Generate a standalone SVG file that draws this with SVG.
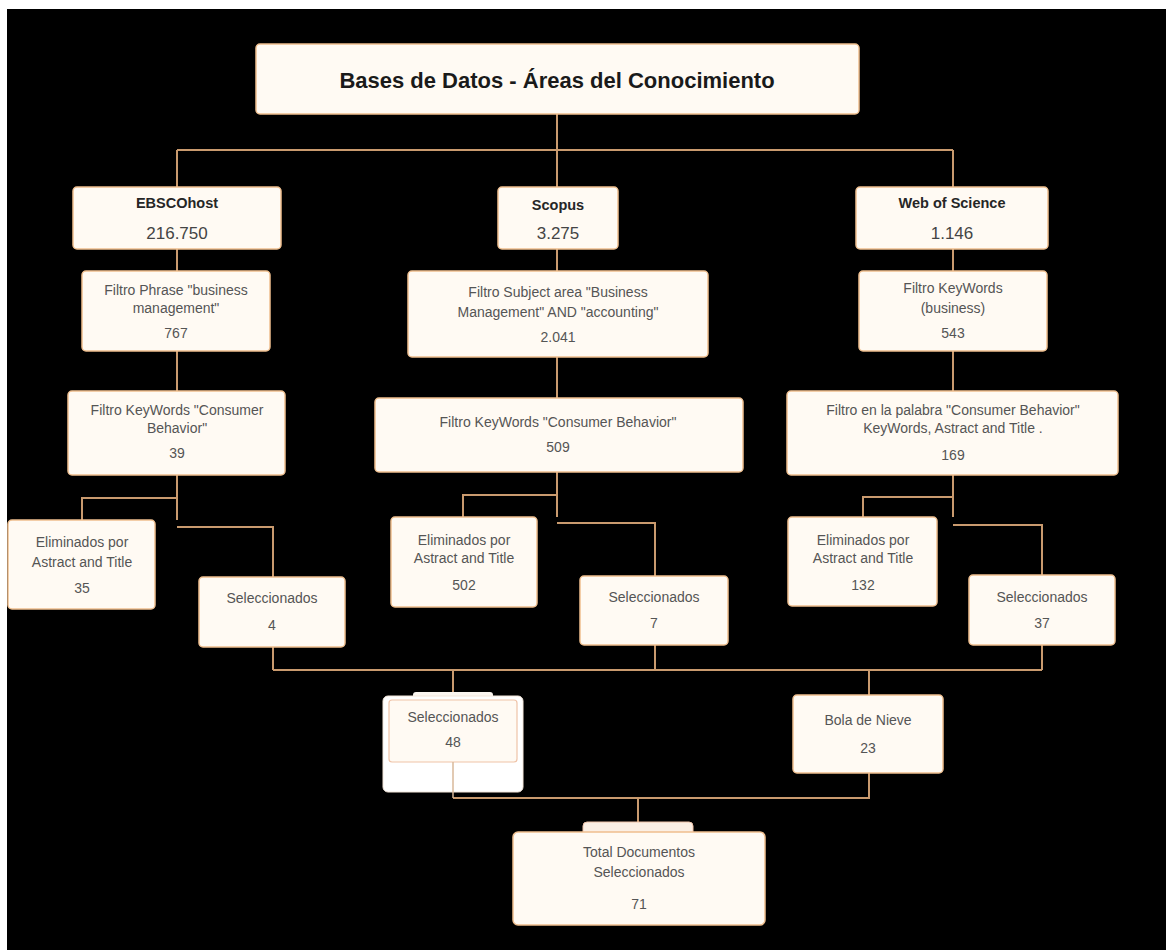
<svg xmlns="http://www.w3.org/2000/svg" width="1166" height="950" viewBox="0 0 1166 950">
<style>
.box{fill:#fffaf3;stroke:#efbf8f;stroke-width:1.5}
.ln{fill:none;stroke:#c99a6e;stroke-width:2}
.ln2{fill:none;stroke:#d9b89a;stroke-width:1.5}
text{font-family:"Liberation Sans",Arial,sans-serif;text-anchor:middle;fill:#555}
.t{font-size:14px}
.h{font-size:14.5px;font-weight:bold;fill:#262626}
.n{font-size:17px;fill:#444}
.title{font-size:22px;font-weight:bold;fill:#1a1a1a}
</style>
<rect x="0" y="0" width="1166" height="950" fill="#ffffff"/>
<rect x="7" y="9" width="1159" height="941" fill="#000000"/>
<g id="connectors">
<path class="ln" d="M557 114V150M177 150H953M177 150V520M557 150V517M953 150V517"/>
<path class="ln" d="M177 498H82V520M177 527H273V577"/>
<path class="ln" d="M557 495H463V517M557 523H655V576"/>
<path class="ln" d="M953 497H863V517M953 525H1042V575"/>
<path class="ln" d="M273 647V670M655 645V670M1042 645V670M273 670H1042M453 670V696M869 670V695"/>
<path class="ln" d="M869 773V798H453M638 798V822"/>
</g>
<g id="title"><rect class="box" x="256" y="44" width="603" height="70" rx="4"/><text class="title" x="557" y="88">Bases de Datos - Áreas del Conocimiento</text></g>
<g id="ebsco"><rect class="box" x="73" y="187" width="208" height="62" rx="4"/><text class="h" x="177" y="208">EBSCOhost</text><text class="n" x="177" y="239">216.750</text></g>
<g id="scopus"><rect class="box" x="498" y="187" width="120" height="62" rx="4"/><text class="h" x="558" y="210">Scopus</text><text class="n" x="558" y="239">3.275</text></g>
<g id="wos"><rect class="box" x="856" y="187" width="192" height="62" rx="4"/><text class="h" x="952" y="208">Web of Science</text><text class="n" x="952" y="239">1.146</text></g>
<g id="ebsco-f1"><rect class="box" x="82" y="271" width="188" height="80" rx="4"/><text class="t" x="176" y="295">Filtro Phrase "business</text><text class="t" x="176" y="313">management"</text><text class="t" x="176" y="338">767</text></g>
<g id="scopus-f1"><rect class="box" x="408" y="271" width="300" height="86" rx="4"/><text class="t" x="558" y="297">Filtro Subject area "Business</text><text class="t" x="558" y="317">Management" AND "accounting"</text><text class="t" x="558" y="342">2.041</text></g>
<g id="wos-f1"><rect class="box" x="859" y="271" width="188" height="80" rx="4"/><text class="t" x="953" y="293">Filtro KeyWords</text><text class="t" x="953" y="313">(business)</text><text class="t" x="953" y="338">543</text></g>
<g id="ebsco-f2"><rect class="box" x="68" y="391" width="217" height="84" rx="4"/><text class="t" x="177" y="415">Filtro KeyWords "Consumer</text><text class="t" x="177" y="433">Behavior"</text><text class="t" x="177" y="458">39</text></g>
<g id="scopus-f2"><rect class="box" x="375" y="398" width="368" height="74" rx="4"/><text class="t" x="558" y="427">Filtro KeyWords "Consumer Behavior"</text><text class="t" x="558" y="452">509</text></g>
<g id="wos-f2"><rect class="box" x="787" y="391" width="331" height="84" rx="4"/><text class="t" x="953" y="415">Filtro en la palabra "Consumer Behavior"</text><text class="t" x="953" y="433">KeyWords, Astract and Title .</text><text class="t" x="953" y="460">169</text></g>
<g id="ebsco-elim"><rect class="box" x="8" y="520" width="147" height="89" rx="4"/><text class="t" x="82" y="547">Eliminados por</text><text class="t" x="82" y="567">Astract and Title</text><text class="t" x="82" y="593">35</text></g>
<g id="scopus-elim"><rect class="box" x="391" y="517" width="146" height="90" rx="4"/><text class="t" x="464" y="545">Eliminados por</text><text class="t" x="464" y="563">Astract and Title</text><text class="t" x="464" y="590">502</text></g>
<g id="wos-elim"><rect class="box" x="788" y="517" width="149" height="89" rx="4"/><text class="t" x="863" y="545">Eliminados por</text><text class="t" x="863" y="563">Astract and Title</text><text class="t" x="863" y="590">132</text></g>
<g id="ebsco-sel"><rect class="box" x="199" y="577" width="146" height="70" rx="4"/><text class="t" x="272" y="603">Seleccionados</text><text class="t" x="272" y="630">4</text></g>
<g id="scopus-sel"><rect class="box" x="580" y="576" width="148" height="69" rx="4"/><text class="t" x="654" y="602">Seleccionados</text><text class="t" x="654" y="628">7</text></g>
<g id="wos-sel"><rect class="box" x="969" y="575" width="146" height="70" rx="4"/><text class="t" x="1042" y="602">Seleccionados</text><text class="t" x="1042" y="628">37</text></g>
<g id="sel48"><rect x="413" y="692" width="80" height="8" rx="3" fill="#fbf6f0"/><rect x="383" y="696" width="140" height="96" rx="5" fill="#ffffff" stroke="#f3e6da" stroke-width="1"/><rect x="389" y="700" width="128" height="62" rx="3" fill="#fffaf3" stroke="#efc3a8" stroke-width="1.2"/><text class="t" x="453" y="722">Seleccionados</text><text class="t" x="453" y="747">48</text><path class="ln2" d="M453 762V798"/></g>
<g id="bola"><rect class="box" x="793" y="695" width="150" height="78" rx="4"/><text class="t" x="868" y="725">Bola de Nieve</text><text class="t" x="868" y="753">23</text></g>
<g id="total"><rect x="583" y="822" width="110" height="14" rx="4" fill="#fbefe4" stroke="#efc3a8" stroke-width="1"/><rect class="box" x="513" y="832" width="252" height="93" rx="5"/><text class="t" x="639" y="857">Total Documentos</text><text class="t" x="639" y="877">Seleccionados</text><text class="t" x="639" y="909">71</text></g>
</svg>
